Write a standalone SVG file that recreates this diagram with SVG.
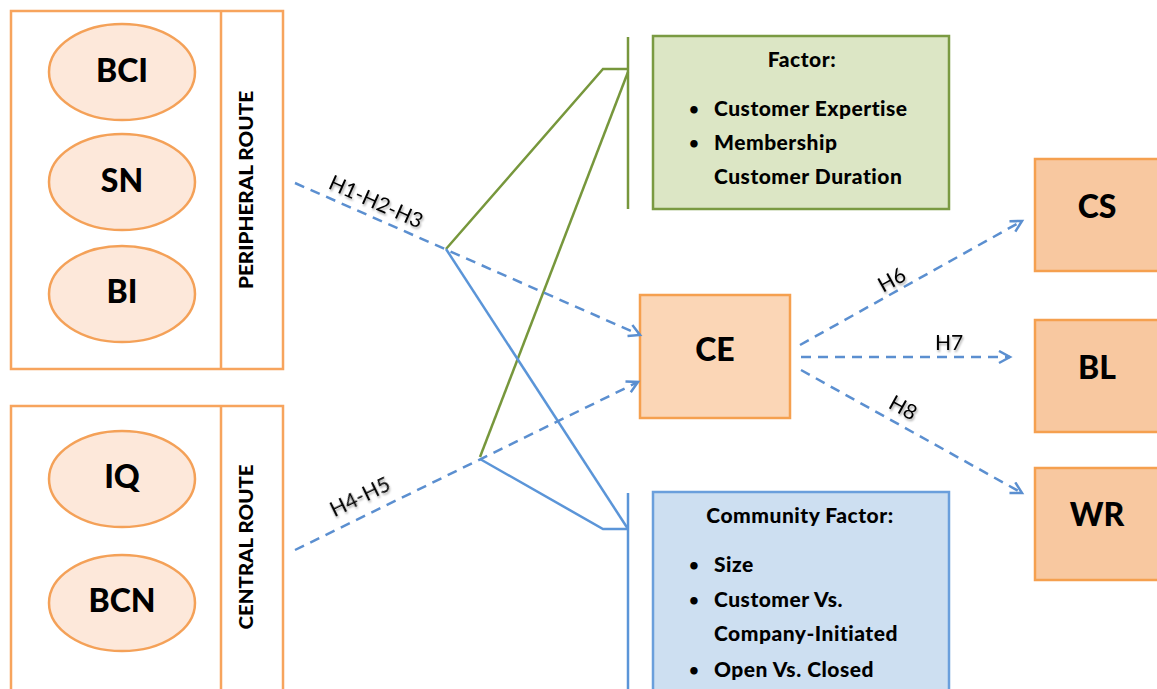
<svg xmlns="http://www.w3.org/2000/svg" width="1157" height="689" viewBox="0 0 1157 689">
<style>
.grp{fill:#fff;stroke:#f7a45d;stroke-width:2.5}
.ell{fill:#fde8da;stroke:#f4a158;stroke-width:2.5}
.big{font-family:Lato,"Liberation Sans",sans-serif;font-weight:900;font-size:32px;fill:#000;text-anchor:middle}
.vert{font-family:Lato,"Liberation Sans",sans-serif;font-weight:900;font-size:18px;fill:#000;text-anchor:middle}
.box{font-family:Lato,"Liberation Sans",sans-serif;font-weight:900;font-size:21px;letter-spacing:0.5px;fill:#000}
.bul{font-family:Lato,"Liberation Sans",sans-serif;font-weight:bold;font-size:17px;fill:#000}
.lbl{font-family:Lato,"Liberation Sans",sans-serif;font-size:21px;fill:#000;text-anchor:middle}
.dash{fill:none;stroke:#5b8fd0;stroke-width:2.5;stroke-dasharray:10 7}
.gl{fill:none;stroke:#77973c;stroke-width:2.5}
.bl{fill:none;stroke:#5b95d8;stroke-width:2.5}
.out{fill:#f8c8a0;stroke:#f5a04f;stroke-width:2.5}
</style>
<defs>
<marker id="arr" markerUnits="userSpaceOnUse" markerWidth="16" markerHeight="16" refX="12" refY="7" orient="auto">
<path d="M1,1 L12,7 L1,13" fill="none" stroke="#5b8fd0" stroke-width="2.5"/>
</marker>
<filter id="sh" x="-20%" y="-20%" width="140%" height="160%">
<feDropShadow dx="1" dy="2" stdDeviation="1.2" flood-color="#000" flood-opacity="0.35"/>
</filter>
</defs>
<rect width="1157" height="689" fill="#fff"/>

<g id="peripheral">
<rect class="grp" x="11" y="11" width="272" height="358"/>
<line x1="221" y1="11" x2="221" y2="369" stroke="#f7a45d" stroke-width="2.5"/>
<text class="vert" transform="translate(253,190) rotate(-90)" textLength="198" lengthAdjust="spacingAndGlyphs">PERIPHERAL ROUTE</text>
</g>
<g id="BCI"><ellipse class="ell" cx="122" cy="72" rx="73" ry="48"/><text class="big" x="122" y="82">BCI</text></g>
<g id="SN"><ellipse class="ell" cx="122" cy="182" rx="73" ry="48"/><text class="big" x="122" y="192">SN</text></g>
<g id="BI"><ellipse class="ell" cx="122" cy="294" rx="73" ry="48"/><text class="big" x="122" y="303">BI</text></g>

<g id="central">
<rect class="grp" x="11" y="406" width="272" height="300"/>
<line x1="221" y1="406" x2="221" y2="689" stroke="#f7a45d" stroke-width="2.5"/>
<text class="vert" transform="translate(253,547) rotate(-90)" textLength="165" lengthAdjust="spacingAndGlyphs">CENTRAL ROUTE</text>
</g>
<g id="IQ"><ellipse class="ell" cx="122" cy="479" rx="73" ry="48"/><text class="big" x="122" y="488">IQ</text></g>
<g id="BCN"><ellipse class="ell" cx="122" cy="603" rx="73" ry="48"/><text class="big" x="122" y="612">BCN</text></g>

<g id="factor">
<rect x="653" y="36" width="296" height="173" fill="#dce6c5" stroke="#7a9a42" stroke-width="2.5"/>
<text class="box" x="802" y="67" text-anchor="middle">Factor:</text>
<text class="bul" x="689" y="115">•</text><text class="box" x="714" y="116">Customer Expertise</text>
<text class="bul" x="689" y="149">•</text><text class="box" x="714" y="150">Membership</text>
<text class="box" x="714" y="184">Customer Duration</text>
</g>

<g id="community">
<rect x="653" y="492" width="296" height="210" fill="#cddff1" stroke="#6a9fdc" stroke-width="2.5"/>
<text class="box" x="800" y="523" text-anchor="middle">Community Factor:</text>
<text class="bul" x="689" y="571">•</text><text class="box" x="714" y="572">Size</text>
<text class="bul" x="689" y="606">•</text><text class="box" x="714" y="607">Customer Vs.</text>
<text class="box" x="714" y="641">Company-Initiated</text>
<text class="bul" x="689" y="676">•</text><text class="box" x="714" y="677">Open Vs. Closed</text>
</g>

<g id="CE"><rect x="640" y="295" width="150" height="123" fill="#fbd6b6" stroke="#f5a04f" stroke-width="2.5"/><text class="big" x="715" y="361">CE</text></g>
<g id="CS"><rect class="out" x="1035" y="159" width="130" height="112"/><text class="big" x="1097" y="218">CS</text></g>
<g id="BL"><rect class="out" x="1035" y="320" width="130" height="112"/><text class="big" x="1097" y="379">BL</text></g>
<g id="WR"><rect class="out" x="1035" y="468" width="130" height="112"/><text class="big" x="1097" y="526">WR</text></g>

<g id="connectors">
<polyline class="gl" points="628,37 628,209"/>
<polyline class="gl" points="446,249 603,69 628,69"/>
<line class="gl" x1="628" y1="72" x2="480" y2="457"/>
<polyline class="bl" points="628,493 628,700"/>
<polyline class="bl" points="480,459 603,529 628,529"/>
<line class="bl" x1="446" y1="249" x2="628" y2="529"/>
<line class="dash" x1="295" y1="183" x2="640" y2="335" marker-end="url(#arr)"/>
<line class="dash" x1="295" y1="550" x2="638" y2="382" marker-end="url(#arr)"/>
<line class="dash" x1="800" y1="345" x2="1022" y2="221" marker-end="url(#arr)"/>
<line class="dash" x1="801" y1="357" x2="1010" y2="357" marker-end="url(#arr)"/>
<line class="dash" x1="801" y1="370" x2="1022" y2="493" marker-end="url(#arr)"/>
<g filter="url(#sh)">
<text class="lbl" transform="translate(376,202) rotate(24)" y="7">H1-H2-H3</text>
<text class="lbl" transform="translate(360,497) rotate(-26)" y="7">H4-H5</text>
<text class="lbl" transform="translate(892,280) rotate(-29)" y="7">H6</text>
<text class="lbl" transform="translate(949,343)" y="7">H7</text>
<text class="lbl" transform="translate(903,408) rotate(29)" y="7">H8</text>
</g>
</g>
</svg>
